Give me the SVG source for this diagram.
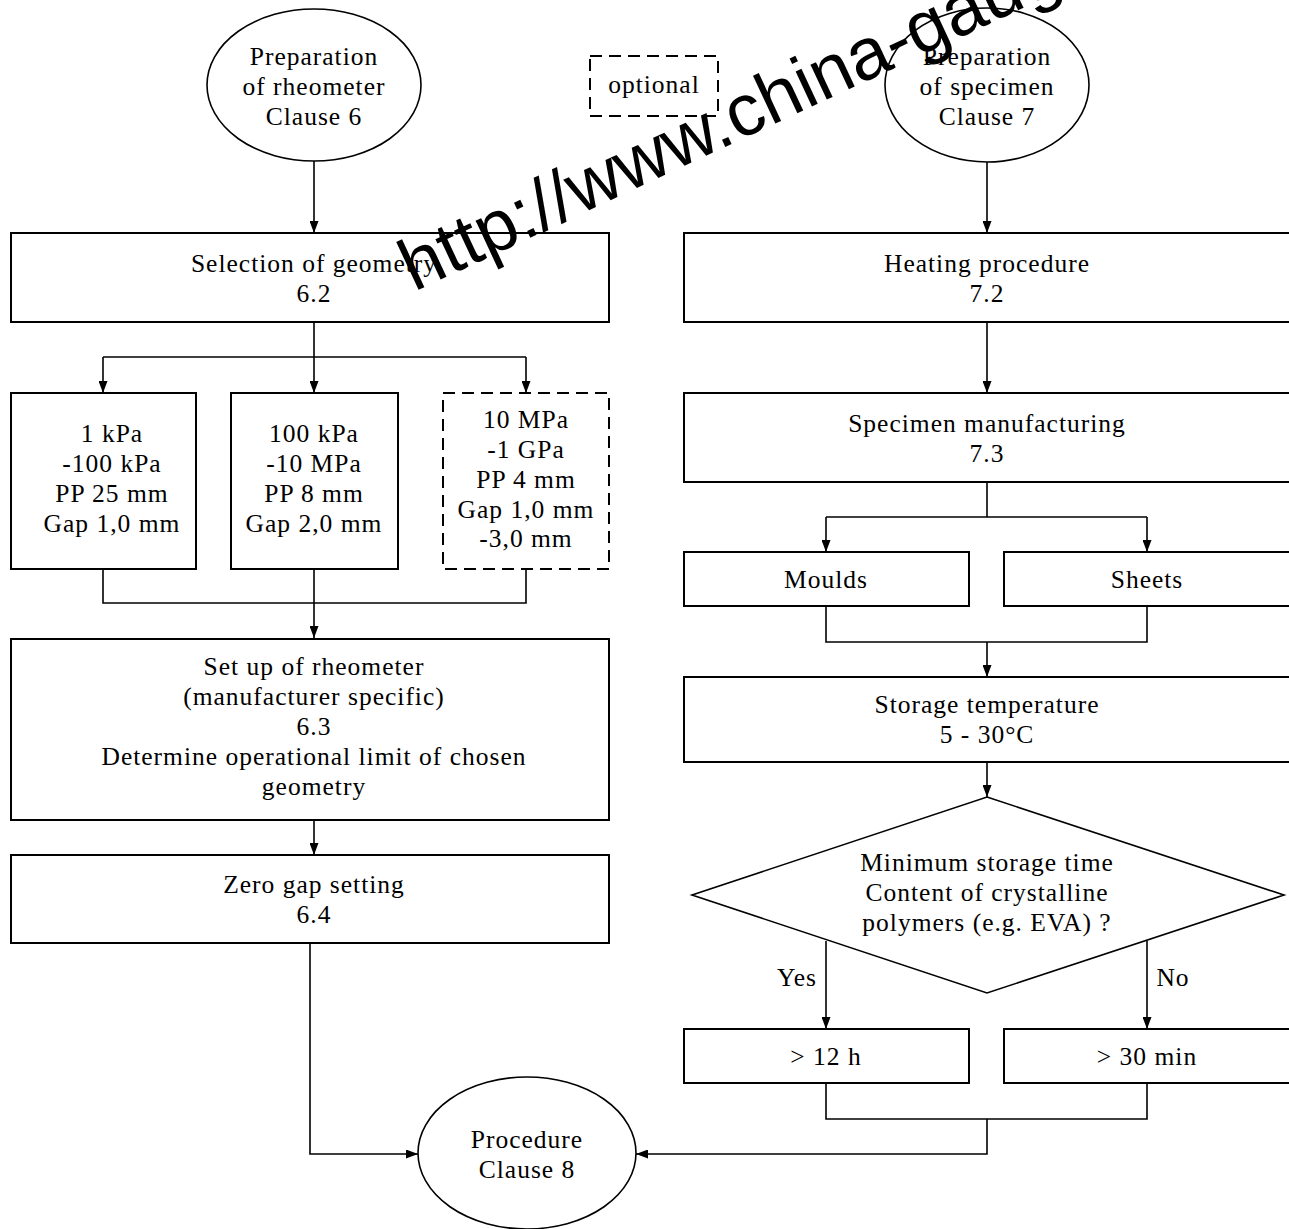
<svg xmlns="http://www.w3.org/2000/svg" width="1289" height="1229" viewBox="0 0 1289 1229">
<defs>
<style>
.t{font-family:"Liberation Serif","Times New Roman",serif;font-size:25.5px;letter-spacing:1px;text-anchor:middle;fill:#000}
.b{fill:#fff;stroke:#000;stroke-width:2}
.d{fill:#fff;stroke:#000;stroke-width:2;stroke-dasharray:12 7}
.e{fill:#fff;stroke:#000;stroke-width:1.6}
.c{fill:none;stroke:#000;stroke-width:1.6}
.a{fill:none;stroke:#000;stroke-width:1.6;marker-end:url(#ah)}
.wm{font-family:"Liberation Sans",Arial,sans-serif;font-size:73px;fill:#000}
</style>
<marker id="ah" markerUnits="userSpaceOnUse" markerWidth="12" markerHeight="9" refX="12" refY="4.5" orient="auto">
<path d="M0,0 L12,4.5 L0,9 z" fill="#000"/>
</marker>
</defs>
<rect width="1289" height="1229" fill="#fff"/>

<g id="connectors">
<path class="a" d="M314,160 V233"/>
<path class="c" d="M314,322 V357 M103,357 H526"/>
<path class="a" d="M103,357 V393"/>
<path class="a" d="M314,357 V393"/>
<path class="a" d="M526,357 V393"/>
<path class="c" d="M103,569 V603 H526 V569"/>
<path class="a" d="M314,569 V638"/>
<path class="a" d="M314,820 V855"/>
<path class="a" d="M310,943 V1154 H418"/>
<path class="a" d="M987,162 V233"/>
<path class="a" d="M987,322 V393"/>
<path class="c" d="M987,482 V517 M826,517 H1147"/>
<path class="a" d="M826,517 V552"/>
<path class="a" d="M1147,517 V552"/>
<path class="c" d="M826,606 V642 H1147 V606"/>
<path class="a" d="M987,642 V677"/>
<path class="a" d="M987,762 V797"/>
<path class="a" d="M826,941 V1029"/>
<path class="a" d="M1147,941 V1029"/>
<path class="c" d="M826,1083 V1119 H1147 V1083"/>
<path class="a" d="M987,1119 V1154 H636"/>
</g>

<g id="prep-rheometer">
<ellipse class="e" cx="314" cy="85" rx="107" ry="76"/>
<text class="t" x="314" y="65">Preparation</text>
<text class="t" x="314" y="95">of rheometer</text>
<text class="t" x="314" y="125">Clause 6</text>
</g>

<g id="legend-optional">
<rect class="d" x="590" y="56" width="128" height="60"/>
<text class="t" x="654" y="93">optional</text>
</g>

<g id="prep-specimen">
<ellipse class="e" cx="987" cy="85" rx="102" ry="77"/>
<text class="t" x="987" y="65">Preparation</text>
<text class="t" x="987" y="95">of specimen</text>
<text class="t" x="987" y="125">Clause 7</text>
</g>

<g id="selection-geometry">
<rect class="b" x="11" y="233" width="598" height="89"/>
<text class="t" x="314" y="272">Selection of geometry</text>
<text class="t" x="314" y="302">6.2</text>
</g>

<g id="geom-1">
<rect class="b" x="11" y="393" width="185" height="176"/>
<text class="t" x="112" y="442">1 kPa</text>
<text class="t" x="112" y="472">-100 kPa</text>
<text class="t" x="112" y="502">PP 25 mm</text>
<text class="t" x="112" y="532">Gap 1,0 mm</text>
</g>

<g id="geom-2">
<rect class="b" x="231" y="393" width="167" height="176"/>
<text class="t" x="314" y="442">100 kPa</text>
<text class="t" x="314" y="472">-10 MPa</text>
<text class="t" x="314" y="502">PP 8 mm</text>
<text class="t" x="314" y="532">Gap 2,0 mm</text>
</g>

<g id="geom-3">
<rect class="d" x="443" y="393" width="166" height="176"/>
<text class="t" x="526" y="428">10 MPa</text>
<text class="t" x="526" y="458">-1 GPa</text>
<text class="t" x="526" y="488">PP 4 mm</text>
<text class="t" x="526" y="518">Gap 1,0 mm</text>
<text class="t" x="526" y="547">-3,0 mm</text>
</g>

<g id="setup">
<rect class="b" x="11" y="639" width="598" height="181"/>
<text class="t" x="314" y="675">Set up of rheometer</text>
<text class="t" x="314" y="705">(manufacturer specific)</text>
<text class="t" x="314" y="735">6.3</text>
<text class="t" x="314" y="765">Determine operational limit of chosen</text>
<text class="t" x="314" y="795">geometry</text>
</g>

<g id="zero-gap">
<rect class="b" x="11" y="855" width="598" height="88"/>
<text class="t" x="314" y="893">Zero gap setting</text>
<text class="t" x="314" y="923">6.4</text>
</g>

<g id="heating">
<rect class="b" x="684" y="233" width="610" height="89"/>
<text class="t" x="987" y="272">Heating procedure</text>
<text class="t" x="987" y="302">7.2</text>
</g>

<g id="manufacturing">
<rect class="b" x="684" y="393" width="610" height="89"/>
<text class="t" x="987" y="432">Specimen manufacturing</text>
<text class="t" x="987" y="462">7.3</text>
</g>

<g id="moulds">
<rect class="b" x="684" y="552" width="285" height="54"/>
<text class="t" x="826" y="588">Moulds</text>
</g>

<g id="sheets">
<rect class="b" x="1004" y="552" width="290" height="54"/>
<text class="t" x="1147" y="588">Sheets</text>
</g>

<g id="storage-temp">
<rect class="b" x="684" y="677" width="610" height="85"/>
<text class="t" x="987" y="713">Storage temperature</text>
<text class="t" x="987" y="743">5 - 30°C</text>
</g>

<g id="decision">
<polygon class="e" points="987,797 1284,895 987,993 692,895"/>
<text class="t" x="987" y="871">Minimum storage time</text>
<text class="t" x="987" y="901">Content of crystalline</text>
<text class="t" x="987" y="931">polymers (e.g. EVA) ?</text>
<text class="t" x="797" y="986">Yes</text>
<text class="t" x="1173" y="986">No</text>
</g>

<g id="time-12h">
<rect class="b" x="684" y="1029" width="285" height="54"/>
<text class="t" x="826" y="1065">&gt; 12 h</text>
</g>

<g id="time-30min">
<rect class="b" x="1004" y="1029" width="290" height="54"/>
<text class="t" x="1147" y="1065">&gt; 30 min</text>
</g>

<g id="procedure">
<ellipse class="e" cx="527" cy="1153" rx="109" ry="76"/>
<text class="t" x="527" y="1148">Procedure</text>
<text class="t" x="527" y="1178">Clause 8</text>
</g>

<g id="watermark">
<text class="wm" transform="translate(414,292) rotate(-25)">http://www.china-gauges.com</text>
</g>
</svg>
